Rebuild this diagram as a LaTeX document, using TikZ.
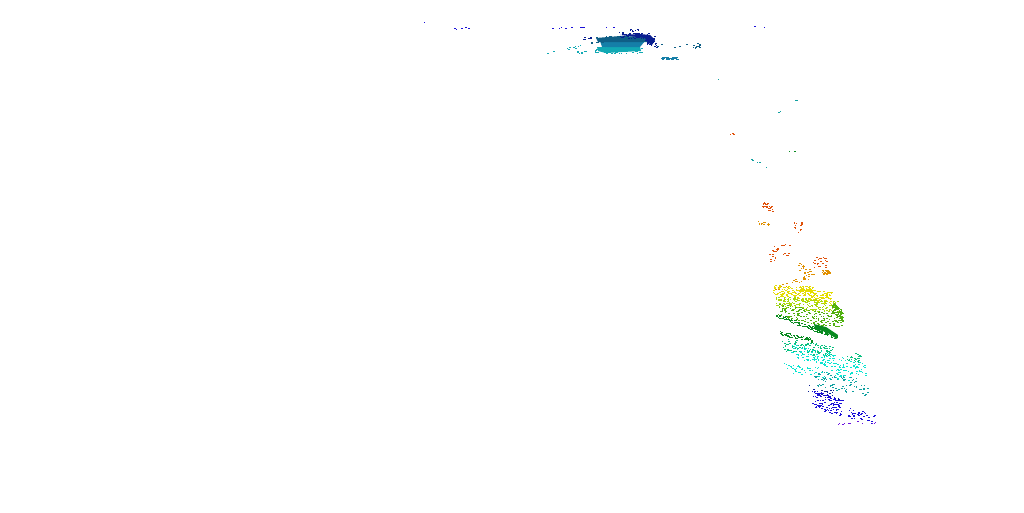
\documentclass[tikz,border=0pt]{standalone}
\usepackage{tikz}
\definecolor{navy}{HTML}{0A1F90}
\definecolor{deepteal}{HTML}{0F5F86}
\definecolor{midteal}{HTML}{157FA8}
\definecolor{lowteal}{HTML}{12A9B4}
\definecolor{blueink}{HTML}{1A10D8}
\definecolor{violetink}{HTML}{6A10E0}
\definecolor{tealink}{HTML}{10A0A0}
\definecolor{cyanink}{HTML}{08E4D0}
\definecolor{seaink}{HTML}{08C080}
\definecolor{dkgreen}{HTML}{088A20}
\definecolor{grnink}{HTML}{50B010}
\definecolor{limeink}{HTML}{A8D808}
\definecolor{yelink}{HTML}{E4DC00}
\definecolor{ornink}{HTML}{E09000}
\definecolor{redink}{HTML}{E05008}
\tikzset{speck/.style = {draw = none, fill = #1}}
% scattered specks along a band: colour, count, x1, y1, x2, y2, half width
\newcommand{\specks}[7]{%
    \foreach \i in {1, ..., #2} {
        \pgfmathsetmacro{\tt}{rnd}
        \pgfmathsetmacro{\ss}{2*rnd - 1}
        \pgfmathsetmacro{\px}{round(#3 + \tt*(#5 - #3))}
        \pgfmathsetmacro{\py}{round(#4 + \tt*(#6 - #4) + \ss*#7)}
        \pgfmathsetmacro{\pw}{1 + rnd}
        \fill [speck = #1] (\px, \py) rectangle ++(\pw, 1.3);
    }%
}
\begin{document}
\begin{tikzpicture}[x = 1pt, y = -1pt]
    \useasboundingbox (0, 0) rectangle (1024, 512);
    \pgfmathsetseed{23}

    % top cluster
    \fill [lowteal] (597, 47) -- (640, 47) -- (641, 51) -- (622, 52) -- (606, 53) -- (598, 51) -- cycle;
    \fill [midteal] (600, 41) -- (645, 41) -- (640, 47) -- (602, 47) -- cycle;
    \fill [deepteal] (596, 38) -- (620, 36) -- (648, 37) -- (648, 42) -- (598, 42) -- cycle;
    \fill [navy] (620, 35) -- (640, 34) -- (650, 35) -- (655, 40) -- (652, 45) -- (647, 42) -- (645, 38) -- cycle;
    \specks{lowteal}{70}{595}{50}{641}{51}{3}
    \specks{navy}{50}{618}{34}{655}{38}{3}
    \specks{navy}{20}{646}{42}{657}{44}{3}
    \specks{deepteal}{30}{590}{40}{620}{38}{3}
    \specks{midteal}{45}{661}{58}{677}{58}{1}
    \specks{lowteal}{10}{577}{52}{586}{52}{1}
    \specks{deepteal}{14}{693}{47}{701}{45}{2}
    \specks{navy}{14}{628}{30}{650}{33}{2}
    \specks{blueink}{10}{547}{28}{585}{27}{0.5}
    \specks{blueink}{3}{603}{27}{620}{27}{0}
    \specks{navy}{10}{580}{39}{592}{37}{1}
    \specks{lowteal}{10}{544}{53}{594}{43}{1}
    \specks{deepteal}{7}{656}{45}{708}{44}{2}
    \specks{blueink}{6}{452}{28}{471}{27}{1}
    \fill [blueink] (424, 22) rectangle ++(1, 1);
    \fill [blueink] (754, 26) rectangle ++(2, 1);
    \fill [blueink] (764, 27) rectangle ++(1, 1);

    % loose points between the clusters
    \specks{redink}{6}{730}{134}{735}{133}{1}
    \specks{tealink}{5}{742}{155}{770}{168}{1}
    \specks{dkgreen}{3}{786}{151}{798}{151}{1}
    \specks{tealink}{4}{775}{113}{801}{97}{1}
    \fill [tealink] (718, 79) rectangle ++(1, 1);

    % orange and yellow part
    \specks{redink}{30}{762}{203}{773}{210}{4}
    \specks{ornink}{14}{757}{222}{769}{223}{2}
    \specks{redink}{14}{793}{225}{802}{228}{6}
    \specks{redink}{26}{768}{255}{790}{248}{7}
    \specks{ornink}{24}{795}{262}{812}{276}{5}
    \specks{redink}{24}{813}{262}{826}{262}{6}
    \specks{ornink}{30}{822}{272}{830}{272}{2}
    \specks{ornink}{30}{774}{288}{815}{275}{3}
    \specks{yelink}{210}{773}{290}{832}{298}{6}
    \specks{yelink}{60}{798}{288}{812}{289}{3}

    % green part
    \specks{limeink}{200}{775}{301}{838}{307}{6}
    \specks{grnink}{170}{777}{310}{842}{322}{7}
    \specks{grnink}{100}{832}{306}{842}{316}{6}
    \specks{dkgreen}{130}{776}{315}{837}{337}{2}
    \fill [dkgreen] (814, 324) -- (826, 327) -- (838, 335) -- (837, 339) -- (826, 332) -- (815, 329) -- cycle;

    % cyan part
    \specks{dkgreen}{60}{780}{333}{812}{340}{2}
    \specks{seaink}{110}{780}{344}{833}{352}{6}
    \specks{seaink}{30}{845}{356}{860}{358}{4}
    \specks{cyanink}{170}{790}{349}{865}{370}{7}
    \specks{cyanink}{70}{783}{367}{850}{376}{5}
    \specks{tealink}{90}{813}{377}{867}{389}{8}

    % blue part
    \specks{navy}{20}{808}{388}{838}{396}{5}
    \specks{blueink}{120}{812}{397}{842}{409}{9}
    \specks{blueink}{40}{848}{412}{874}{420}{5}
    \specks{violetink}{12}{832}{423}{878}{423}{2}
\end{tikzpicture}
\end{document}
